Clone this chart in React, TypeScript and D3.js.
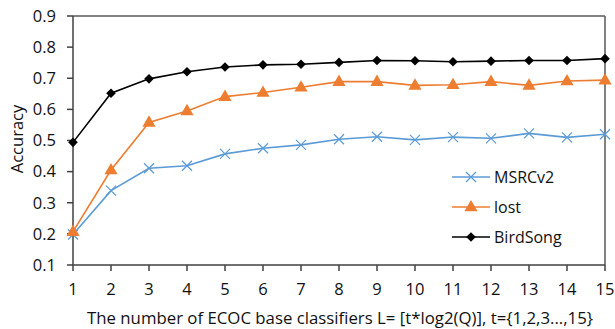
import React from 'react';
import * as d3 from 'd3';

const steps = [1, 2, 3, 4, 5, 6, 7, 8, 9, 10, 11, 12, 13, 14, 15];
const msrcv2 = [0.198, 0.339, 0.411, 0.419, 0.457, 0.475, 0.486, 0.504, 0.512, 0.502, 0.511, 0.507, 0.523, 0.51, 0.52];
const lost = [0.207, 0.405, 0.558, 0.595, 0.641, 0.654, 0.671, 0.689, 0.689, 0.677, 0.679, 0.689, 0.677, 0.691, 0.694];
const birdSong = [0.494, 0.652, 0.698, 0.721, 0.736, 0.743, 0.745, 0.751, 0.757, 0.756, 0.753, 0.755, 0.757, 0.757, 0.763];
const yTicks = [0.1, 0.2, 0.3, 0.4, 0.5, 0.6, 0.7, 0.8, 0.9];

const series = [
    { name: 'MSRCv2', values: msrcv2, color: '#5B9BD5', marker: 'x' },
    { name: 'lost', values: lost, color: '#ED7D31', marker: 'triangle' },
    { name: 'BirdSong', values: birdSong, color: '#000000', marker: 'diamond' },
];

const width = 615;
const height = 329;
const margin = { left: 73, right: 10, top: 16, bottom: 64 };
const font = "'Open Sans', sans-serif";
const axisColor = '#404040';
const textColor = '#111';

const Marker = ({ type, x, y, color }: { type: string; x: number; y: number; color: string }) => {
    if (type === 'x') {
        const s = 5;
        return (
            <path
                d={`M${x - s},${y - s}L${x + s},${y + s}M${x - s},${y + s}L${x + s},${y - s}`}
                stroke={color}
                strokeWidth={1.2}
                fill='none'
            />
        );
    }
    if (type === 'triangle') {
        const sym = d3.symbol().type(d3.symbolTriangle).size(75)();
        return <path d={sym || ''} transform={`translate(${x},${y + 0.5})`} fill={color} />;
    }
    const d = 4.8;
    return <path d={`M${x},${y - d}L${x + d},${y}L${x},${y + d}L${x - d},${y}Z`} fill={color} />;
};

const App = () => {
    const x = d3
        .scaleLinear()
        .domain([1, 15])
        .range([margin.left, width - margin.right]);
    const y = d3
        .scaleLinear()
        .domain([0.1, 0.9])
        .range([height - margin.bottom, margin.top]);

    const line = d3
        .line<number>()
        .x((d, i) => x(steps[i]))
        .y((d) => y(d));

    const x0 = x(1);
    const x1 = x(15);
    const y0 = y(0.1);
    const y1 = y(0.9);

    return (
        <svg width={width} height={height} style={{ position: 'absolute', left: 0, top: 0, background: '#fff' }}>
            {/* plot frame */}
            <line x1={x0} y1={y1} x2={x1} y2={y1} stroke='#595959' strokeWidth={1.5} />
            <line x1={x1} y1={y1} x2={x1} y2={y0} stroke='#595959' strokeWidth={1.5} />
            <line x1={x0} y1={y1} x2={x0} y2={y0} stroke={axisColor} strokeWidth={1.5} />
            <line x1={x0} y1={y0} x2={x1} y2={y0} stroke={axisColor} strokeWidth={1.5} />

            {yTicks.map((t) => (
                <g key={t}>
                    <line x1={x0 - 6} x2={x0} y1={y(t)} y2={y(t)} stroke={axisColor} strokeWidth={1.5} />
                    <text x={x0 - 17} y={y(t)} dy='0.35em' textAnchor='end' fontFamily={font} fontSize={16.5} fill={textColor}>
                        {t.toFixed(1)}
                    </text>
                </g>
            ))}
            {steps.map((s) => (
                <g key={s}>
                    <line x1={x(s)} x2={x(s)} y1={y0} y2={y0 + 6} stroke={axisColor} strokeWidth={1.5} />
                    <text x={x(s)} y={y0 + 24} dy='0.35em' textAnchor='middle' fontFamily={font} fontSize={16.5} fill={textColor}>
                        {s}
                    </text>
                </g>
            ))}

            <text
                transform={`translate(17,${139}) rotate(-90)`}
                textAnchor='middle'
                dy='0.35em'
                fontFamily={font}
                fontSize={16.5}
                fill={textColor}
            >
                Accuracy
            </text>
            <text x={87} y={318} dy='0.35em' textAnchor='start' fontFamily={font} fontSize={16.8} fill={textColor}>
                The number of ECOC base classifiers L= [t*log2(Q)], t={'{'}1,2,3...,15{'}'}
            </text>

            {series.map((s) => (
                <g key={s.name}>
                    <path d={line(s.values) || ''} fill='none' stroke={s.color} strokeWidth={1.6} />
                    {s.values.map((v, i) => (
                        <Marker key={i} type={s.marker} x={x(steps[i])} y={y(v)} color={s.color} />
                    ))}
                </g>
            ))}

            {series.map((s, i) => {
                const ly = 177 + i * 30;
                return (
                    <g key={s.name}>
                        <line x1={452} x2={490} y1={ly} y2={ly} stroke={s.color} strokeWidth={1.6} />
                        <Marker type={s.marker} x={471} y={ly} color={s.color} />
                        <text x={494} y={ly} dy='0.35em' fontFamily={font} fontSize={16} fill={textColor}>
                            {s.name}
                        </text>
                    </g>
                );
            })}
        </svg>
    );
};

export default App;
